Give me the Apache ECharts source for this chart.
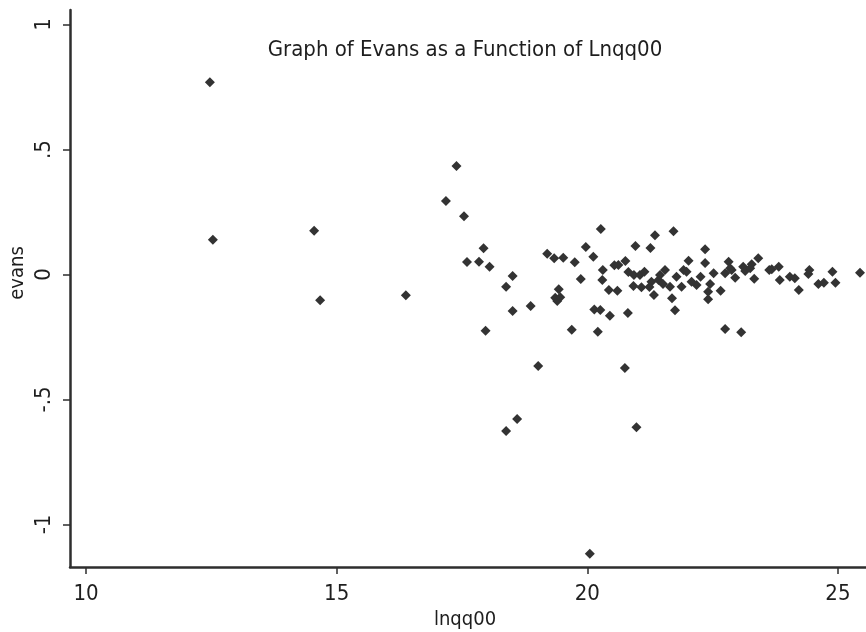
<!DOCTYPE html>
<html>
<head>
<meta charset="utf-8">
<script src="https://cdn.jsdelivr.net/npm/echarts@6/dist/echarts.min.js"></script>
<style>
html,body{margin:0;padding:0;background:#fff;}
#chart{width:866px;height:632px;}
</style>
</head>
<body>
<div id="chart"></div>
<script>
// lnqq00 values (x)
const lnqq00 = [
  12.47, 12.53, 14.55, 14.67, 16.38, 17.18, 17.39, 17.54, 17.60, 17.84,
  17.93, 17.97, 18.05, 18.38, 18.38, 18.51, 18.51, 18.60, 18.87, 19.02,
  19.20, 19.34, 19.36, 19.40, 19.43, 19.46, 19.52, 19.69, 19.75, 19.87,
  19.97, 20.05, 20.12, 20.14, 20.26, 20.21, 20.27, 20.30, 20.31, 20.43,
  20.45, 20.54, 20.60, 20.62, 20.75, 20.76, 20.81, 20.82, 20.92, 20.93,
  20.96, 20.98, 21.05, 21.08, 21.14, 21.26, 21.28, 21.33, 21.35, 21.42,
  21.51, 21.55, 21.65, 21.69, 21.72, 21.75, 21.78, 21.88, 21.92, 22.02,
  22.18, 22.26, 22.35, 22.35, 22.41, 22.41, 22.45, 22.52, 22.66, 22.75,
  22.82, 22.88, 22.95, 23.07, 23.11, 23.15, 23.28, 23.33, 23.41, 23.63,
  23.68, 23.82, 23.84, 24.04, 24.14, 24.22, 24.41, 24.43, 24.61, 24.72,
  24.89, 24.95, 25.44, 21.24, 22.85, 23.25, 22.75, 22.08, 21.98, 21.45
];
// evans values (y)
const evans = [
  0.769, 0.139, 0.175, -0.103, -0.083, 0.294, 0.434, 0.233, 0.050, 0.051,
  0.105, -0.225, 0.031, -0.049, -0.626, -0.006, -0.146, -0.578, -0.126, -0.366,
  0.083, 0.065, -0.093, -0.106, -0.059, -0.091, 0.067, -0.221, 0.049, -0.018,
  0.110, -1.117, 0.071, -0.140, -0.142, -0.229, 0.182, -0.022, 0.018, -0.062,
  -0.165, 0.037, -0.065, 0.038, -0.374, 0.054, -0.154, 0.010, -0.046, -0.002,
  0.114, -0.611, -0.002, -0.051, 0.011, 0.106, -0.029, -0.082, 0.157, -0.022,
  -0.038, 0.018, -0.049, -0.095, 0.173, -0.143, -0.009, -0.049, 0.018, 0.055,
  -0.042, -0.009, 0.101, 0.046, -0.069, -0.099, -0.038, 0.005, -0.065, -0.218,
  0.051, 0.018, -0.013, -0.231, 0.031, 0.014, 0.041, -0.017, 0.065, 0.018,
  0.021, 0.031, -0.022, -0.009, -0.015, -0.062, 0.002, 0.018, -0.038, -0.033,
  0.011, -0.033, 0.007, -0.050, 0.025, 0.025, 0.005, -0.029, 0.011, -0.002
];
const xTicks = [10, 15, 20, 25];
const yTicks = [-1, -0.5, 0, 0.5, 1];
const yTickLabels = ['-1', '-.5', '0', '.5', '1'];

const FONT = '"DejaVu Sans Condensed", "Liberation Sans", sans-serif';
const INK = '#2e2e2e';

const points = lnqq00.map((x, i) => [x, evans[i]]);

const chart = echarts.init(document.getElementById('chart'), null, {renderer: 'canvas'});
chart.setOption({
  backgroundColor: '#ffffff',
  animation: false,
  grid: {left: 70, right: 0, top: 10, bottom: 65},
  xAxis: {
    type: 'value', min: 9.68, max: 25.56,
    axisLine: {show: true, onZero: false, lineStyle: {color: INK, width: 2.5}},
    axisTick: {show: true, length: 7, customValues: xTicks, lineStyle: {color: INK, width: 1.5}},
    axisLabel: {customValues: xTicks, margin: 16, color: '#1e1e1e', fontFamily: FONT, fontSize: 22},
    splitLine: {show: false}
  },
  yAxis: {
    type: 'value', min: -1.17, max: 1.058,
    axisLine: {show: true, onZero: false, lineStyle: {color: INK, width: 2.5}},
    axisTick: {show: true, length: 7, customValues: yTicks, lineStyle: {color: INK, width: 1.5}},
    axisLabel: {
      customValues: yTicks, rotate: 90, margin: 15, color: '#1e1e1e', fontFamily: FONT, fontSize: 22,
      formatter: v => yTickLabels[yTicks.indexOf(Math.round(v * 10) / 10)]
    },
    splitLine: {show: false}
  },
  graphic: [
    {type: 'text', x: 465, y: 50,
     style: {text: 'Graph of Evans as a Function of Lnqq00', fill: '#1e1e1e', font: '22px ' + FONT,
             align: 'center', verticalAlign: 'middle'}},
    {type: 'text', x: 465, y: 620,
     style: {text: 'lnqq00', fill: '#1e1e1e', font: '20px ' + FONT, align: 'center', verticalAlign: 'middle'}},
    {type: 'text', x: 18, y: 273, rotation: Math.PI / 2,
     style: {text: 'evans', fill: '#1e1e1e', font: '20px ' + FONT, align: 'center', verticalAlign: 'middle'}}
  ],
  series: [{
    type: 'scatter',
    data: points,
    symbol: 'diamond',
    symbolSize: [10, 10],
    itemStyle: {color: '#333333', opacity: 1},
    silent: true
  }]
});
</script>
</body>
</html>
